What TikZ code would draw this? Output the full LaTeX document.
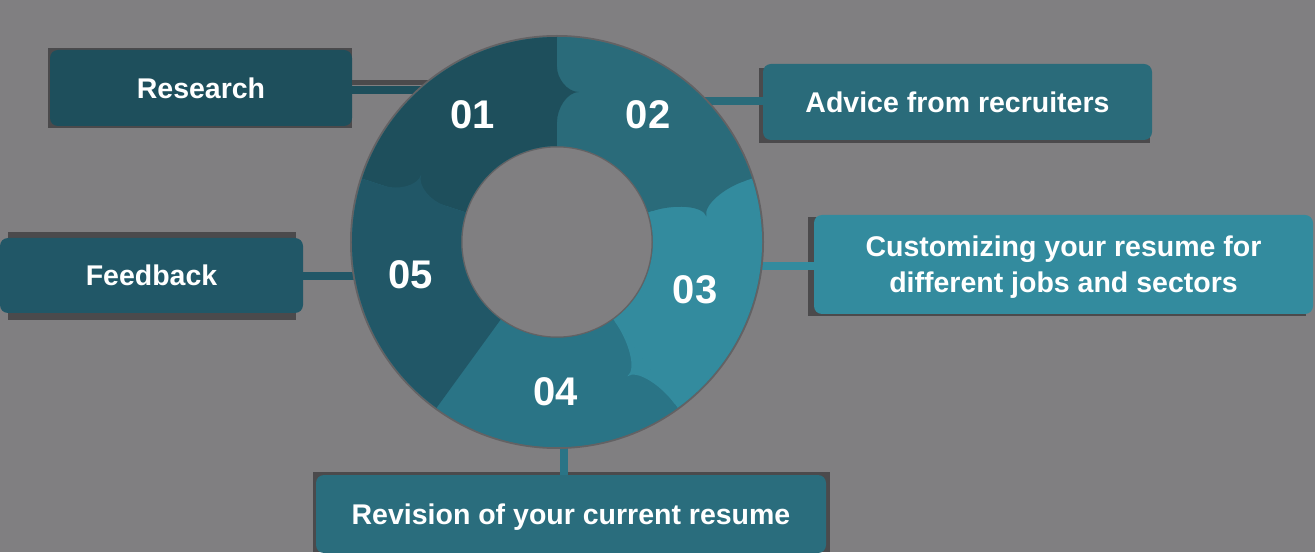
\documentclass[tikz,border=0pt]{standalone}
\usepackage{fontspec}
\setmainfont{Liberation Sans}
\definecolor{bg}{HTML}{807F81}
\definecolor{shd}{HTML}{4B4A4C}
\definecolor{cA}{HTML}{1E4F5C}
\definecolor{cB}{HTML}{2A6B7A}
\definecolor{cC}{HTML}{338B9E}
\definecolor{cD}{HTML}{2A7486}
\definecolor{cE}{HTML}{215767}
\definecolor{cR}{HTML}{2A6D7D}
\newcommand\ringseg[3]{%
  \fill[#3] (#1:205) arc[start angle=#1, end angle=#2, radius=205] -- (#2:96)
    arc[start angle=#2, end angle=#1, radius=96] -- cycle;}
\newcommand\ringtip[4]{%
  \begin{scope}[rotate={#1-90}]
    \fill[#4] (-1,#2) -- (0,#2) .. controls (0,{150+0.55*(#2-150)}) and (10,150) .. (22,150)
      .. controls (10,150) and (0,{150-0.55*(150-#3)}) .. (0,#3) -- (-1,#3) -- cycle;
  \end{scope}}
\begin{document}
\begin{tikzpicture}[x=1pt,y=1pt,
  boxlab/.style={fill=#1, rounded corners=8pt, text=white,
    font=\bfseries\fontsize{28.5}{36}\selectfont, inner sep=0pt, align=center, text depth=0pt},
  conn/.style={line width=8pt, draw=#1},
  numlab/.style={text=white, font=\bfseries\fontsize{40}{40}\selectfont, inner sep=0pt}]
\fill[bg] (0,0) rectangle (1315,552);
\useasboundingbox (0,0) rectangle (1315,552);
% box shadows
\fill[shd] (48,424) rectangle (352,504);
\fill[shd] (759,409) rectangle (1150,484);
\fill[shd] (808,236) rectangle (1306,335);
\fill[shd] (313,0) rectangle (830,80);
\fill[shd] (8,232) rectangle (296,320);
% boxes
\node[boxlab=cA, minimum width=302pt, minimum height=76pt] (b1) at (201,464) {Research};
\node[boxlab=cB, minimum width=389pt, minimum height=76pt] (b2) at (957.5,450) {Advice from recruiters};
\node[boxlab=cC, minimum width=499pt, minimum height=99pt] (b3) at (1063.5,287.5) {Customizing your resume for\\different jobs and sectors};
\node[boxlab=cR, minimum width=510pt, minimum height=78pt] (b4) at (571,38) {Revision of your current resume};
\node[boxlab=cE, minimum width=303pt, minimum height=75pt] (b5) at (151.5,276.5) {Feedback};
% connectors
\coordinate (r1) at (440,462);
\coordinate (r2) at (690,451);
\coordinate (r3) at (740,286);
\coordinate (r4) at (564,120);
\coordinate (r5) at (370,276);
\coordinate (s1) at (440,469.5);
\draw[shd, line width=5pt] (s1) -- (s1 -| b1.east);
\draw[conn=cA] (r1) -- (r1 -| b1.east);
\draw[conn=cB] (r2) -- (r2 -| b2.west);
\draw[conn=cC] (r3) -- (r3 -| b3.west);
\draw[conn=cD] (r4) -- (r4 |- b4.north);
\draw[conn=cE] (r5) -- (r5 -| b5.east);
% ring
\begin{scope}[shift={(557,310)}]
  \fill[shd!55!bg, even odd rule] (0,0) circle[radius=207] (0,0) circle[radius=94.5];
  \fill[cD, even odd rule] (0,0) circle[radius=205] (0,0) circle[radius=96];
  \ringseg{162}{90}{cA}
  \ringseg{90}{18}{cB}
  \ringseg{18}{-54}{cC}
  \ringseg{-54}{-126}{cD}
  \ringseg{-126}{-198}{cE}
  \ringtip{90}{175}{120}{cA}
  \ringtip{18}{198}{100}{cB}
  \ringtip{-54}{200}{98}{cC}
  \ringtip{162}{182}{118}{cE}
\end{scope}
% numbers
\node[numlab] (n1) at (473,437) {01};
\node[numlab] (n2) at (648,437) {02};
\node[numlab] (n3) at (695,262) {03};
\node[numlab] (n4) at (556,160) {04};
\node[numlab] (n5) at (411,277) {05};
\end{tikzpicture}
\end{document}
